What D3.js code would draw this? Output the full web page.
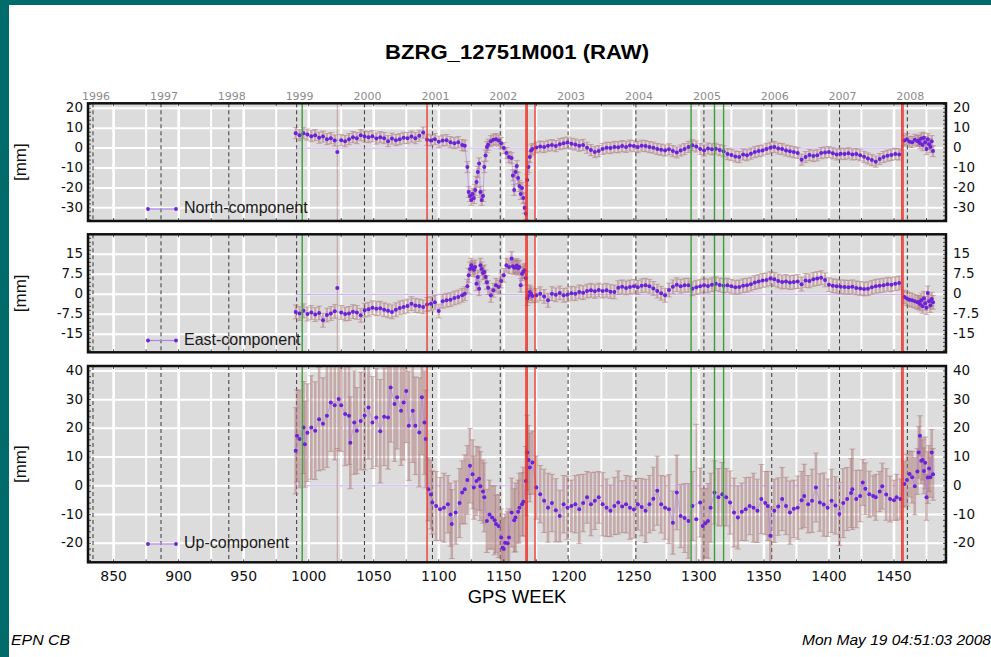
<!DOCTYPE html>
<html lang="en">
<head>
<meta charset="UTF-8">
<title>BZRG_12751M001 (RAW)</title>
<script src="https://d3js.org/d3.v7.min.js"></script>
<style>
    body { margin: 0; background: #fff; }
    svg { display: block; }
    .num { font-family: "DejaVu Sans", sans-serif; font-size: 13.5px; fill: #111; }
    .xnum { font-family: "DejaVu Sans", sans-serif; font-size: 14px; fill: #111; }
    .year { font-family: "DejaVu Sans", sans-serif; font-size: 11px; fill: #8c8c8c; }
    .legend { font-family: "Liberation Sans", Arial, sans-serif; font-size: 16px; fill: #1a1a1a; }
    .unit { font-family: "Liberation Sans", Arial, sans-serif; font-size: 17px; fill: #111; }
</style>
</head>
<body>
<svg id="chart" width="991" height="657"></svg>
<script>
// ---- axis / event data ----
const yearLabels = ["1996", "1997", "1998", "1999", "2000", "2001", "2002", "2003", "2004", "2005", "2006", "2007", "2008"];
const yearWeeks = [834.14, 886.43, 938.57, 990.71, 1042.86, 1095.14, 1147.29, 1199.43, 1251.57, 1303.86, 1356.0, 1408.14, 1460.29];
const weekTicks = [850, 900, 950, 1000, 1050, 1100, 1150, 1200, 1250, 1300, 1350, 1400, 1450];
const gridWeeks = [850, 875, 900, 925, 950, 975, 1000, 1025, 1050, 1075, 1100, 1125, 1150, 1175, 1200, 1225, 1250, 1275, 1300, 1325, 1350, 1375, 1400, 1425, 1450, 1475];
const redWeeks = [1091, 1167, 1168, 1174, 1456, 1457];
const greenWeeks = [995, 1294, 1312, 1319];
const zeroLineWeeks = [990, 1457];

const northTicks = [20, 10, 0, -10, -20, -30];
const eastTicks = [15, 7.5, 0, -7.5, -15];
const upTicks = [40, 30, 20, 10, 0, -10, -20];

// ---- series: [gps week, value mm, optional sigma mm] ----
const northSigma = 2.8;
const northData = [
    [990,7.5],[993,6.5],[996,7.5],[999,6.8],[1002,6],[1005,6.5],[1008,5.2],[1011,5.8],[1014,4.5],[1017,5],[1020,3.8],[1022,-2,60],
    [1025,4],[1028,3.5],[1031,4.5],[1034,5.5],[1037,5],[1040,6.5],[1043,5.8],[1046,5.5],[1049,6],[1052,4.8],[1055,5.5],[1058,5],
    [1061,3.5],[1064,4.8],[1067,4],[1070,4.5],[1073,5.2],[1076,5],[1079,5.8],[1082,5],[1085,6.2],[1088,7.8],[1091,4.2],[1094,3.8],
    [1097,4.5],[1100,3.2],[1103,3.8],[1106,4],[1109,3],[1112,2.5],[1115,3],[1118,1.5],[1120,1.2],
    [1122,-9.5],[1123,-22],[1124,-24],[1125,-26],[1126,-23],[1127,-25],[1128,-21],[1129,-17],[1130,-12],[1131,-7.7],[1132,-22],
    [1133,-26],[1134,-24],[1135,-9.5],[1136,-3.7],[1137,0.5],[1138,1.7],[1140,3.5],[1142,4.2],[1144,4.5],[1146,3.8],[1148,2.5],
    [1150,0],[1152,-2.5],[1154,-4.5],[1156,-5],[1157,-13.7],[1158,-21],[1159,-12],[1160,-9],[1161,-15],[1162,-19],[1163,-23],
    [1164,-20],[1165,-25],[1166,-30],[1167,-33],[1168,-16],[1169,-9.5],[1170,-4.5],[1171,-1.2],[1172,-0.5],
    [1175,0.3],[1178,0.8],[1181,0.5],[1184,1.2],[1187,1.5],[1190,1],[1193,2],[1196,2.4],[1199,2.8],[1202,2.2],[1205,1.8],[1208,1.2],
    [1211,1.6],[1214,0.2],[1217,-1],[1220,-2],[1223,-1.5],[1226,-0.4],[1229,0.2],[1232,0],[1235,0.6],[1238,0.4],[1241,1],[1244,0.6],
    [1247,1.3],[1250,1],[1253,0.5],[1256,1.2],[1259,1],[1262,0.5],[1265,0.2],[1268,-0.5],[1271,-0.8],[1274,-1.2],[1277,-0.6],
    [1280,-1.5],[1283,-2.2],[1286,-1.2],[1289,-0.5],[1292,0.6],[1295,1.4],[1298,0.8],[1301,-0.4],[1304,-1.2],[1307,-0.2],[1310,-0.6],
    [1313,-0.3],[1316,-1],[1319,-1.6],[1322,-3],[1325,-3.5],[1328,-4.2],[1331,-4.5],[1334,-3.2],[1337,-3.6],[1340,-2.8],[1343,-2],
    [1346,-1.5],[1349,-1.2],[1352,-0.4],[1355,0.2],[1358,0.6],[1361,-0.2],[1364,-0.5],[1367,-1.2],[1370,-1.6],[1373,-2],[1376,-2.4],
    [1379,-5.8],[1382,-4.5],[1385,-3.5],[1388,-4],[1391,-3.6],[1394,-2.5],[1397,-2.2],[1400,-2],[1403,-2.6],[1406,-3.2],[1409,-2.8],
    [1412,-3],[1415,-2.6],[1418,-3.2],[1421,-3],[1424,-3.6],[1427,-4.4],[1430,-5.2],[1433,-6],[1436,-6.8],[1439,-5.5],[1442,-4.5],
    [1445,-3.8],[1448,-3.4],[1451,-3],[1454,-3.2],
    [1458,3.8],[1460,4.5],[1462,3.2],[1464,3],[1466,4.2],[1468,3.5],[1469,3.8],[1470,2.5],[1471,4.8],[1472,1.5],[1473,5.2],
    [1474,3],[1475,-0.5],[1476,4.5],[1477,2],[1478,0.5],[1479,3.5],[1480,-1.5]
];

const eastSigma = 2.6;
const eastData = [
    [990,-6.6],[993,-7.2],[996,-6.2],[999,-7.4],[1002,-6.8],[1005,-7.6],[1008,-7],[1011,-9.75],[1014,-7.8],[1017,-7.2],[1020,-6.4],
    [1022,2.4,40],[1025,-6.8],[1028,-7.4],[1031,-7.2],[1034,-6.5],[1037,-6.8],[1040,-7.9],[1043,-6],[1046,-5.6],[1049,-5],[1052,-5.4],
    [1055,-5.2],[1058,-5.8],[1061,-6.2],[1064,-6.6],[1067,-5.8],[1070,-5.1],[1073,-4.8],[1076,-4.4],[1079,-3.5],[1082,-4.2],
    [1085,-4.4],[1088,-4.75],[1091,-3.8],[1094,-3.5],[1097,-3],[1100,-6.3],[1103,-2.6],[1106,-2.25],[1109,-2],[1112,-1.4],
    [1115,-1],[1118,-0.4],[1120,0.25],
    [1122,3],[1123,7.1],[1124,9.5],[1125,10.9],[1126,10],[1127,9.2],[1128,10.25],[1129,4],[1130,6.5],[1131,2.1],[1132,10.9],
    [1133,9.5],[1134,8],[1135,8.4],[1136,6.5],[1137,4.5],[1138,2.5],[1140,-0.4],[1142,1.5],[1144,3.4],[1146,2.75],[1148,5],
    [1150,7.1],[1152,10.9],[1154,10.25],[1156,13.4],[1157,10.5],[1158,10],[1159,10.25],[1160,10.8],[1161,9.8],[1162,10.2],
    [1163,3.4],[1164,7.75],[1165,8.5],[1166,9],[1167,6],[1168,-1.6],[1169,-0.5],[1170,0.9],[1171,0.2],[1172,-0.6],
    [1175,-0.4],[1178,0.2],[1181,-0.8],[1184,-2.25],[1187,0.25],[1190,-0.2],[1193,0.5],[1196,-0.4],[1199,-0.2],[1202,0.4],
    [1205,0.2],[1208,0.9],[1211,0.6],[1214,1.2],[1217,1.5],[1220,1.1],[1223,1.6],[1226,1.2],[1229,1.5],[1232,1],[1235,0.9],
    [1238,2.5],[1241,2.8],[1244,2.4],[1247,2.75],[1250,3],[1253,2.6],[1256,3.2],[1259,3.4],[1262,3],[1265,2.2],[1268,1.2],
    [1271,0.4],[1274,-0.4],[1277,1.6],[1280,2.8],[1283,3.6],[1286,3],[1289,3.4],[1292,3.4],[1295,2.1],[1298,2.6],[1301,3],
    [1304,3.4],[1307,3.1],[1310,3.6],[1313,4],[1316,3.5],[1319,3.2],[1322,3.4],[1325,3],[1328,2.6],[1331,2.75],[1334,3.2],
    [1337,3.4],[1340,3.8],[1343,4.4],[1346,4.8],[1349,5.2],[1352,5.4],[1355,5.9],[1358,5.6],[1361,5],[1364,4.6],[1367,4.8],
    [1370,4.4],[1373,4.6],[1376,4.8],[1379,3.8],[1382,5.2],[1385,5],[1388,5.6],[1391,5.9],[1394,6.2],[1397,5.4],[1400,3.6],
    [1403,3.2],[1406,3],[1409,2.8],[1412,2.75],[1415,2.6],[1418,2.8],[1421,2.4],[1424,2.2],[1427,2],[1430,2.1],[1433,2.6],
    [1436,3],[1439,3.2],[1442,3.4],[1445,3.8],[1448,3.6],[1451,4],[1454,4.2],
    [1458,-1],[1460,-1.6],[1462,-2],[1464,-2.25],[1466,-2.6],[1468,-3],[1469,-2.9],[1470,-3.6],[1471,-2.2],[1472,-4.5],
    [1473,-1.5],[1474,-3.4],[1475,-5],[1476,0.5],[1477,-2.6],[1478,-4.2],[1479,-1.8],[1480,-3]
];

const upData = [
    [990,12.2,15],[991,17.4,16],[993,16.3,17],[996,20.3,16],[997,14.5,15],[999,18.5,17],[1002,20.3,18],[1005,19.2,17],
    [1008,23.2,18],[1011,21.6,16],[1014,24.4,18],[1017,29,17],[1020,28,19],[1022,-40,53],[1023,30.2,18],[1025,28,16],
    [1028,25,18],[1031,24.4,17],[1032,15,16],[1035,22,18],[1037,19.2,15],[1040,22.6,17],[1043,24.5,19],[1046,27.3,18],
    [1049,22,16],[1052,23.8,17],[1055,19,18],[1058,24,17],[1061,23.8,18],[1063,34.2,19],[1066,28.5,20],[1068,30.8,18],
    [1071,26.1,19],[1073,29,20],[1075,33,18],[1077,20.9,19],[1080,26.1,18],[1082,20.9,17],[1085,18.6,19],[1087,30.8,20],
    [1089,22,18],[1090,16.3,17],
    [1092,-1.2,11],[1094,-3,12],[1095,-5.8,11],[1098,-7,12],[1101,-8.1,11],[1104,-7.6,12],[1107,-6.4,10],[1109,-10,11],
    [1110,-13.3,12],[1113,-9.3,11],[1116,-6,12],[1118,-2.3,11],[1120,-1.2,12],[1122,2,12],[1124,7,13],[1126,4,12],
    [1127,-0.6,11],[1129,1.7,12],[1131,2.5,11],[1132,-0.1,12],[1134,-2,11],[1135,-4,12],[1137,-12.2,11],[1139,-10,12],
    [1141,-11,11],[1143,-12,12],[1144,-13.3,10],[1146,-14,11],[1148,-18,10],[1149,-21.5,10],[1150,-22,11],[1151,-19.8,10],
    [1153,-20,11],[1154,-18,10],[1156,-9.3,12],[1158,-12,11],[1159,-11,12],[1161,-9,11],[1162,-7.6,12],[1164,-6.4,11],
    [1165,-5.5,12],[1167,1.7,12],[1168,11.6,13],[1169,9,12],[1170,6.4,12],[1172,8.1,11],
    [1175,-0.6,11],[1178,-2.9,10],[1181,-5.2,11],[1184,-7.6,12],[1187,-6,10],[1190,-8.5,11],[1193,-10.5,9],[1196,-6.4,10],
    [1199,-7.6,11],[1202,-7,9],[1205,-6.4,10],[1208,-8.1,12],[1211,-6,10],[1214,-4,9],[1217,-6.4,11],[1220,-5.2,10],
    [1223,-4,9],[1226,-6.4,11],[1229,-7.6,10],[1232,-8.7,9],[1235,-7,10],[1238,-5.8,11],[1241,-7.2,9],[1244,-6.4,10],
    [1247,-7.6,11],[1250,-8.2,10],[1253,-6.4,9],[1256,-7.4,10],[1259,-8.7,11],[1262,-6.4,10],[1265,-4.5,11],[1268,-1.7,12],
    [1271,-6.4,10],[1274,-7.6,11],[1277,-8.1,12],[1280,-12.8,11],[1283,-2.3,13],[1286,-10.5,11],[1289,-11.2,12],[1292,-12.2,13],
    [1295,-7,12],[1298,-11.6,33],[1301,-5.8,12],[1303,-14,13],[1305,-13,12],[1307,-12.2,13],[1309,-7.6,12],[1312,-2.3,11],
    [1315,-4,10],[1318,-2.9,11],[1321,-4,10],[1324,-5.8,11],[1327,-9.3,12],[1330,-11,11],[1333,-9,10],[1336,-8.1,11],
    [1339,-7,10],[1342,-7.6,12],[1345,-8.7,11],[1348,-4.6,12],[1351,-6,11],[1353,-7,12],[1355,-17.4,10],[1358,-8.7,11],
    [1361,-7.2,10],[1364,-4.6,11],[1367,-7,10],[1370,-9.3,11],[1373,-8,10],[1376,-7.6,11],[1379,-5,10],[1381,-3.5,11],
    [1384,-6.4,10],[1387,-5.2,11],[1390,-0.6,12],[1393,-5.8,10],[1396,-6.5,11],[1399,-7.6,10],[1402,-5.2,11],[1405,-6.8,10],
    [1408,-9.8,11],[1411,-6,12],[1414,-4.6,11],[1417,-2.5,12],[1418,-1.2,14],[1421,-4.6,10],[1424,-3.5,9],[1426,1.2,8],
    [1428,-1,9],[1431,-2.9,8],[1434,-3.5,7],[1436,-4,8],[1439,-2,7],[1441,-0.1,8],[1444,-3,9],[1447,-4.6,8],[1450,-5,7],
    [1452,-4,8],[1455,-4.6,7],
    [1458,0.6,8],[1460,2,9],[1462,4.1,8],[1464,3,9],[1466,-0.1,10],[1468,5,8],[1469,11.6,9],[1470,17.4,7],[1471,8.7,8],
    [1472,9,7],[1473,5.2,8],[1474,8,9],[1475,-4,8],[1476,2.9,9],[1477,6,8],[1478,3,7],[1479,11.6,8],[1480,4,9]
];

// ---- layout ----
const W = 991, H = 657;
const left = 88, right = 946;
const svg = d3.select("#chart");

svg.append("rect").attr("width", W).attr("height", H).attr("fill", "#fff");
svg.append("rect").attr("x", 0).attr("y", 0).attr("width", W).attr("height", 5).attr("fill", "#006b6b");
svg.append("rect").attr("x", 0).attr("y", 0).attr("width", 9).attr("height", H).attr("fill", "#006b6b");

svg.append("text")
    .attr("x", 517).attr("y", 59)
    .attr("text-anchor", "middle")
    .attr("textLength", 264).attr("lengthAdjust", "spacingAndGlyphs")
    .style("font-family", "'Liberation Sans', Arial, sans-serif")
    .style("font-size", "21px").style("font-weight", "bold")
    .text("BZRG_12751M001 (RAW)");

const x = d3.scaleLinear().domain([830.3, 1490]).range([left, right]);

const panels = [
    {key: "north", label: "North-component", data: northData, sigma: northSigma, ticks: northTicks,
     domain: [-36.6, 22.5], top: 103.3, bottom: 221, minor: 2, legendY: 209, barWidth: 2.2},
    {key: "east", label: "East-component", data: eastData, sigma: eastSigma, ticks: eastTicks,
     domain: [-21.75, 22.5], top: 234.3, bottom: 352.3, minor: 1.5, legendY: 340.5, barWidth: 2.2},
    {key: "up", label: "Up-component", data: upData, sigma: 10, ticks: upTicks,
     domain: [-26.6, 41.7], top: 366, bottom: 562.3, minor: 2, legendY: 544, barWidth: 2.6}
];

const defs = svg.append("defs");
const errColor = "#ad7676";
const dotColor = "#6c22d8";
const lineColor = "#a984ea";

panels.forEach(p => {
    const y = d3.scaleLinear().domain(p.domain).range([p.bottom, p.top]);
    const sig = d => d[2] != null ? d[2] : p.sigma;
    const g = svg.append("g");

    defs.append("clipPath").attr("id", "clip-" + p.key)
        .append("rect").attr("x", left).attr("y", p.top)
        .attr("width", right - left).attr("height", p.bottom - p.top);

    g.append("rect").attr("x", left).attr("y", p.top)
        .attr("width", right - left).attr("height", p.bottom - p.top)
        .attr("fill", "#dcdcdc");

    const plot = g.append("g").attr("clip-path", `url(#clip-${p.key})`);

    // white grid
    plot.append("g").selectAll("line").data(gridWeeks).join("line")
        .attr("x1", d => x(d)).attr("x2", d => x(d))
        .attr("y1", p.top).attr("y2", p.bottom)
        .attr("stroke", "#fff").attr("stroke-width", d => d % 50 === 0 ? 2.6 : 2);
    plot.append("g").selectAll("line").data(p.ticks).join("line")
        .attr("x1", left).attr("x2", right)
        .attr("y1", d => y(d)).attr("y2", d => y(d))
        .attr("stroke", "#fff").attr("stroke-width", 2);

    // year boundaries
    plot.append("g").selectAll("line").data(yearWeeks).join("line")
        .attr("x1", d => x(d)).attr("x2", d => x(d))
        .attr("y1", p.top).attr("y2", p.bottom)
        .attr("stroke", "#3a3a3a").attr("stroke-width", 1)
        .attr("stroke-dasharray", "4,3");

    // reference line at zero
    plot.append("line")
        .attr("x1", x(zeroLineWeeks[0])).attr("x2", x(zeroLineWeeks[1]))
        .attr("y1", y(0)).attr("y2", y(0))
        .attr("stroke", "#c3a6f0").attr("stroke-width", 1);

    // error bars
    const eb = plot.append("g").attr("stroke", errColor).attr("stroke-opacity", 0.5);
    eb.selectAll("line.v").data(p.data).join("line").attr("class", "v")
        .attr("stroke-width", d => sig(d) > 30 ? 1.2 : p.barWidth)
        .attr("x1", d => x(d[0])).attr("x2", d => x(d[0]))
        .attr("y1", d => y(d[1] - sig(d))).attr("y2", d => y(d[1] + sig(d)));
    eb.selectAll("line.t").data(p.data).join("line").attr("class", "t")
        .attr("stroke-width", 1)
        .attr("x1", d => x(d[0]) - 3).attr("x2", d => x(d[0]) + 3)
        .attr("y1", d => y(d[1] + sig(d))).attr("y2", d => y(d[1] + sig(d)));
    eb.selectAll("line.b").data(p.data).join("line").attr("class", "b")
        .attr("stroke-width", 1)
        .attr("x1", d => x(d[0]) - 3).attr("x2", d => x(d[0]) + 3)
        .attr("y1", d => y(d[1] - sig(d))).attr("y2", d => y(d[1] - sig(d)));

    // connecting line (outliers with huge sigma left out)
    const lineData = p.data.filter(d => sig(d) < 30);
    plot.append("path").datum(lineData)
        .attr("d", d3.line().x(d => x(d[0])).y(d => y(d[1])))
        .attr("fill", "none").attr("stroke", lineColor).attr("stroke-width", 0.8).attr("stroke-opacity", 0.8);

    plot.append("g").selectAll("circle").data(p.data).join("circle")
        .attr("cx", d => x(d[0])).attr("cy", d => y(d[1]))
        .attr("r", 2).attr("fill", dotColor);

    // equipment / discontinuity events
    plot.append("g").selectAll("line").data(redWeeks).join("line")
        .attr("x1", d => x(d)).attr("x2", d => x(d))
        .attr("y1", p.top).attr("y2", p.bottom)
        .attr("stroke", "#ee2a22").attr("stroke-width", 1.5).attr("stroke-opacity", 0.85);
    plot.append("g").selectAll("line").data(greenWeeks).join("line")
        .attr("x1", d => x(d)).attr("x2", d => x(d))
        .attr("y1", p.top).attr("y2", p.bottom)
        .attr("stroke", "#3a9e3a").attr("stroke-width", 1.4);

    // minor ticks on the frame
    const minors = d3.range(Math.ceil(p.domain[0] / p.minor) * p.minor, p.domain[1], p.minor);
    const tk = g.append("g").attr("stroke", "#222").attr("stroke-width", 0.8);
    tk.selectAll("line.l").data(minors).join("line").attr("class", "l")
        .attr("x1", left).attr("x2", left + 3).attr("y1", d => y(d)).attr("y2", d => y(d));
    tk.selectAll("line.r").data(minors).join("line").attr("class", "r")
        .attr("x1", right - 3).attr("x2", right).attr("y1", d => y(d)).attr("y2", d => y(d));
    tk.selectAll("line.t").data(gridWeeks).join("line").attr("class", "t")
        .attr("x1", d => x(d)).attr("x2", d => x(d)).attr("y1", p.top).attr("y2", p.top + 3);
    tk.selectAll("line.b").data(gridWeeks).join("line").attr("class", "b")
        .attr("x1", d => x(d)).attr("x2", d => x(d)).attr("y1", p.bottom - 3).attr("y2", p.bottom);

    g.append("rect").attr("x", left).attr("y", p.top)
        .attr("width", right - left).attr("height", p.bottom - p.top)
        .attr("fill", "none").attr("stroke", "#111").attr("stroke-width", 2.5);

    // y labels both sides
    g.append("g").selectAll("text").data(p.ticks).join("text")
        .attr("class", "num").attr("x", left - 5).attr("y", d => y(d))
        .attr("text-anchor", "end").attr("dominant-baseline", "middle")
        .text(d => d);
    g.append("g").selectAll("text").data(p.ticks).join("text")
        .attr("class", "num").attr("x", right + 7).attr("y", d => y(d))
        .attr("text-anchor", "start").attr("dominant-baseline", "middle")
        .text(d => d);

    g.append("text").attr("class", "unit")
        .attr("transform", `translate(22,${(p.top + p.bottom) / 2}) rotate(-90)`)
        .attr("text-anchor", "middle").attr("dominant-baseline", "middle")
        .text("[mm]");

    // legend
    const lg = g.append("g");
    lg.append("line").attr("x1", 148).attr("x2", 176).attr("y1", p.legendY).attr("y2", p.legendY)
        .attr("stroke", lineColor).attr("stroke-width", 1.2);
    lg.selectAll("circle").data([148, 176]).join("circle")
        .attr("cx", d => d).attr("cy", p.legendY).attr("r", 1.9).attr("fill", dotColor);
    lg.append("text").attr("class", "legend").attr("x", 184).attr("y", p.legendY)
        .attr("dominant-baseline", "middle").text(p.label);
});

// year labels on top
svg.append("g").selectAll("text").data(yearWeeks).join("text")
    .attr("class", "year").attr("x", d => x(d) + 3).attr("y", 100)
    .attr("text-anchor", "middle")
    .text((d, i) => yearLabels[i]);

// bottom week axis
svg.append("g").selectAll("text").data(weekTicks).join("text")
    .attr("class", "xnum").attr("x", d => x(d)).attr("y", 581)
    .attr("text-anchor", "middle").text(d => d);

svg.append("text").attr("x", 517).attr("y", 603)
    .attr("text-anchor", "middle")
    .style("font-family", "'Liberation Sans', Arial, sans-serif").style("font-size", "18.5px")
    .text("GPS WEEK");

svg.append("text").attr("x", 11).attr("y", 645)
    .attr("textLength", 59).attr("lengthAdjust", "spacingAndGlyphs")
    .style("font-family", "'Liberation Sans', Arial, sans-serif").style("font-size", "15px").style("font-style", "italic")
    .text("EPN CB");
svg.append("text").attr("x", 802).attr("y", 645)
    .attr("textLength", 189).attr("lengthAdjust", "spacingAndGlyphs")
    .style("font-family", "'Liberation Sans', Arial, sans-serif").style("font-size", "15px").style("font-style", "italic")
    .text("Mon May 19 04:51:03 2008");
</script>
</body>
</html>
